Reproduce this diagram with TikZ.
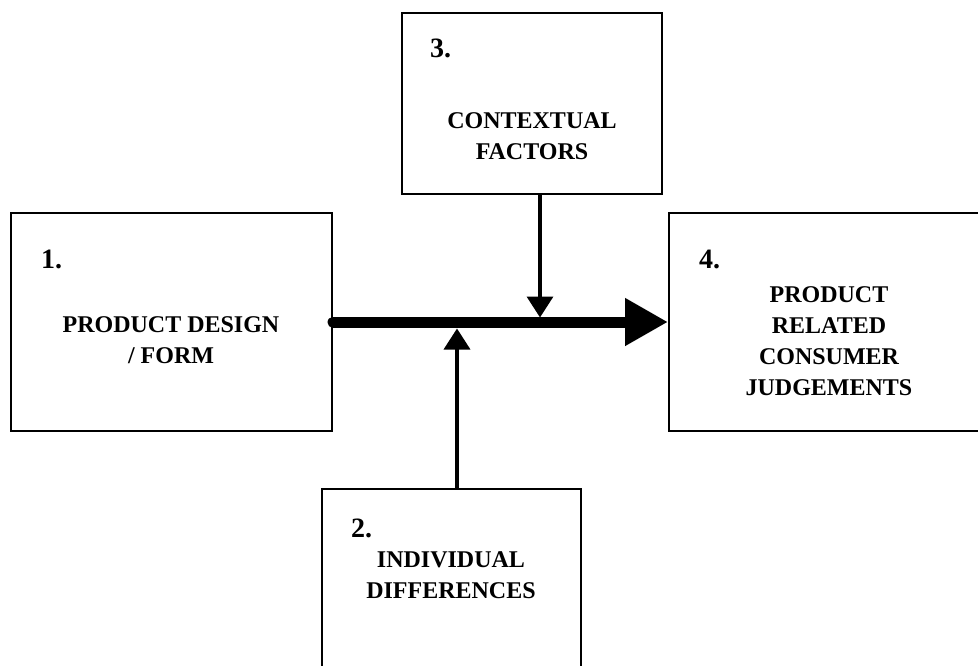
\documentclass[tikz,border=0pt]{standalone}
\usepackage{fontspec}
\setmainfont{Liberation Serif}
\usetikzlibrary{arrows.meta,positioning}
\tikzset{
  box/.style={draw=black,line width=2pt,inner sep=0pt},
  numlbl/.style={font=\fontsize{28}{30}\selectfont\bfseries,anchor=base west,inner sep=0pt},
  txt/.style={font=\fontsize{24}{31}\selectfont\bfseries,align=center,anchor=base,inner sep=0pt},
  flow/.style={-{Triangle[length=21pt,width=26pt]},line width=3.5pt},
  mainflow/.style={-{Triangle[length=43pt,width=45pt]},line width=11pt,line cap=round}}

\begin{document}
\begin{tikzpicture}[x=1pt,y=-1pt]
  \clip (0,0) rectangle (978,666);
  % the four boxes
  \node[box,minimum width=321pt,minimum height=218pt] (design) at (171.5,322) {};
  \node[box,minimum width=260pt,minimum height=181pt] (context) at (532,103.5) {};
  \node[box,minimum width=259pt,minimum height=191pt] (indiv) at (451.5,584.5) {};
  \node[box,minimum width=321pt,minimum height=218pt] (judge) at (829.5,322) {};
  % numbers and texts (anchored on the last line)
  \node[numlbl] at (41,269) {1.};
  \node[txt] at (171,363) {PRODUCT DESIGN\\/ FORM};
  \node[numlbl] at (430,58) {3.};
  \node[txt] at (532,160) {CONTEXTUAL\\FACTORS};
  \node[numlbl] at (351,537) {2.};
  \node[txt] at (451,598) {INDIVIDUAL\\DIFFERENCES};
  \node[numlbl] at (699,268) {4.};
  \node[txt] at (829,395) {PRODUCT\\RELATED\\CONSUMER\\JUDGEMENTS};
  % arrows
  \coordinate (ctx) at (540,317.5);
  \coordinate (ind) at (457,328.5);
  \draw[mainflow] (design.east) -- (judge.west);
  \draw[flow] (context.south -| ctx) -- (ctx);
  \draw[flow] (indiv.north -| ind) -- (ind);
\end{tikzpicture}
\end{document}
